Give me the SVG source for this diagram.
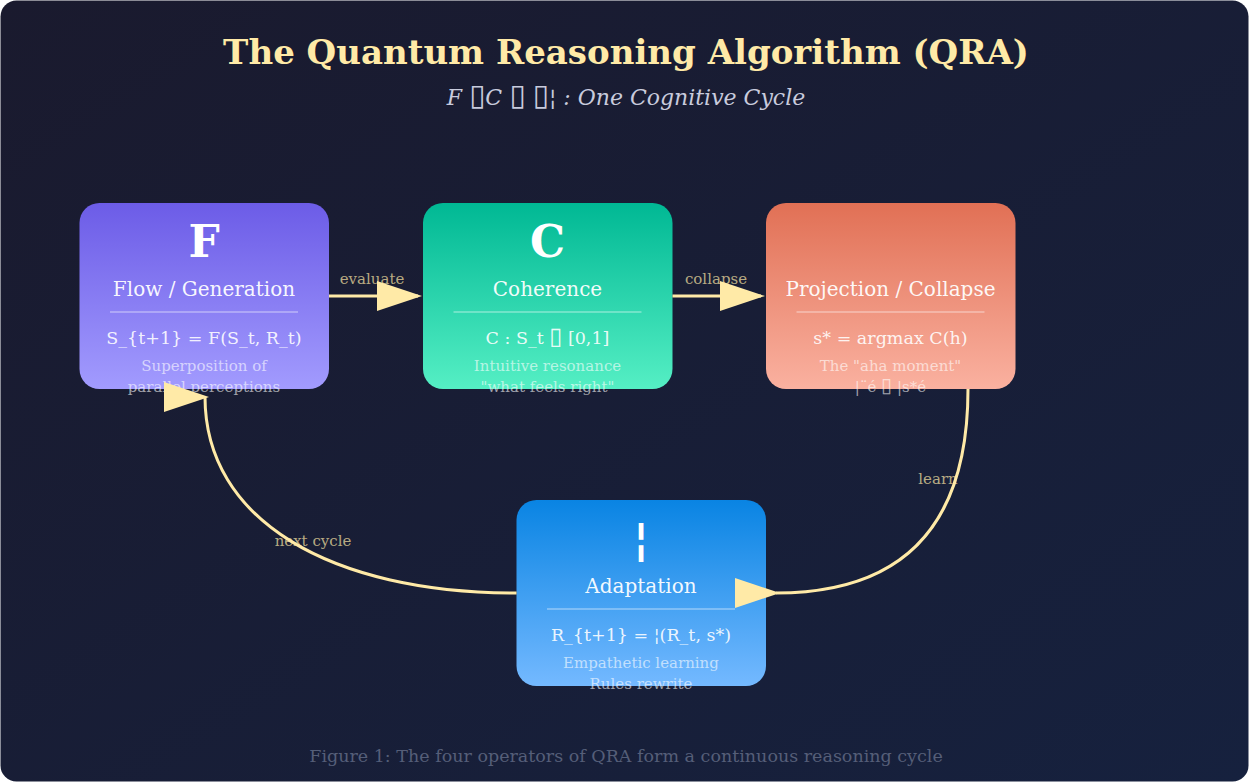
<svg xmlns="http://www.w3.org/2000/svg" width="1249" height="782" viewBox="0 0 1249 782">
<defs>
<linearGradient id="bg" x1="0" y1="0" x2="1" y2="1">
<stop offset="0" stop-color="#1a1a2e"/>
<stop offset="1" stop-color="#16213e"/>
</linearGradient>
<linearGradient id="gF" x1="0" y1="0" x2="0" y2="1"><stop offset="0" stop-color="#6c5ce7"/><stop offset="1" stop-color="#a29bfe"/></linearGradient>
<linearGradient id="gC" x1="0" y1="0" x2="0" y2="1"><stop offset="0" stop-color="#00b894"/><stop offset="1" stop-color="#55efc4"/></linearGradient>
<linearGradient id="gP" x1="0" y1="0" x2="0" y2="1"><stop offset="0" stop-color="#e17055"/><stop offset="1" stop-color="#fab1a0"/></linearGradient>
<linearGradient id="gA" x1="0" y1="0" x2="0" y2="1"><stop offset="0" stop-color="#0984e3"/><stop offset="1" stop-color="#74b9ff"/></linearGradient>
<marker id="arrow" markerUnits="userSpaceOnUse" markerWidth="46" markerHeight="31" refX="41" refY="15" viewBox="0 0 46 31">
<polygon points="0,0 45,15 0,30" fill="#ffeaa7"/>
</marker>
</defs>
<style>
text { font-family: "DejaVu Serif", "Liberation Serif", serif; text-anchor: middle; }
.tofu { font-family: "DejaVu Sans", sans-serif; font-style: normal; font-size: 135%; }
.title { font-size: 34px; font-weight: bold; fill: #ffeaa7; }
.subtitle { font-size: 22px; font-style: italic; fill: #c8cbdd; }
.footer { font-size: 17.5px; fill: #555e78; }
.box { stroke: none; }
.big { font-size: 44px; font-weight: bold; fill: #ffffff; }
.name { font-size: 20px; fill: #ffffff; fill-opacity: 0.95; }
.div { stroke: #ffffff; stroke-opacity: 0.3; stroke-width: 2; }
.formula { font-size: 17.5px; fill: #ffffff; fill-opacity: 0.9; }
.desc { font-size: 15px; fill: #ffffff; fill-opacity: 0.6; }
.conn { fill: none; stroke: #ffeaa7; stroke-width: 3; marker-end: url(#arrow); }
.lbl { font-size: 15px; fill: #ffeaa7; fill-opacity: 0.7; }
</style>
<rect x="0.5" y="0.5" width="1248" height="781" rx="16" fill="url(#bg)"/>
<text class="title" x="626" y="64">The Quantum Reasoning Algorithm (QRA)</text>
<text class="subtitle" x="626" y="105">F <tspan class="tofu">▯</tspan>C <tspan class="tofu">▯</tspan>  <tspan class="tofu">▯</tspan>¦ : One Cognitive Cycle</text>

<g id="node-F">
<rect class="box" x="79.5" y="203" width="249.5" height="186" rx="20" fill="url(#gF)"/>
<text class="big" x="204" y="257">F</text>
<text class="name" x="204" y="296">Flow / Generation</text>
<line class="div" x1="110" y1="312" x2="298" y2="312"/>
<text class="formula" x="204" y="344">S_{t+1} = F(S_t, R_t)</text>
<text class="desc" x="204" y="371">Superposition of</text>
<text class="desc" x="204" y="392">parallel perceptions</text>
</g>

<g id="node-C">
<rect class="box" x="423" y="203" width="249.5" height="186" rx="20" fill="url(#gC)"/>
<text class="big" x="547.5" y="257">C</text>
<text class="name" x="547.5" y="296">Coherence</text>
<line class="div" x1="453.5" y1="312" x2="641.5" y2="312"/>
<text class="formula" x="547.5" y="344">C : S_t <tspan class="tofu">▯</tspan> [0,1]</text>
<text class="desc" x="547.5" y="371">Intuitive resonance</text>
<text class="desc" x="547.5" y="392">"what feels right"</text>
</g>

<g id="node-P">
<rect class="box" x="766" y="203" width="249.5" height="186" rx="20" fill="url(#gP)"/>
<text class="name" x="890.5" y="296">Projection / Collapse</text>
<line class="div" x1="796.5" y1="312" x2="984.5" y2="312"/>
<text class="formula" x="890.5" y="344">s* = argmax C(h)</text>
<text class="desc" x="890.5" y="371">The "aha moment"</text>
<text class="desc" x="890.5" y="392">|¨é <tspan class="tofu">▯</tspan> |s*é</text>
</g>

<g id="node-A">
<rect class="box" x="516.5" y="500" width="249.5" height="186" rx="20" fill="url(#gA)"/>
<text class="big" x="641" y="554">¦</text>
<text class="name" x="641" y="593">Adaptation</text>
<line class="div" x1="547" y1="609" x2="735" y2="609"/>
<text class="formula" x="641" y="641">R_{t+1} = ¦(R_t, s*)</text>
<text class="desc" x="641" y="668">Empathetic learning</text>
<text class="desc" x="641" y="689">Rules rewrite</text>
</g>

<g id="connectors">
<text class="lbl" x="372" y="284">evaluate</text>
<text class="lbl" x="716" y="284">collapse</text>
<text class="lbl" x="938" y="484">learn</text>
<text class="lbl" x="313" y="546">next cycle</text>
<path class="conn" d="M 329 296 L 418 296"/>
<path class="conn" d="M 672.5 296 L 761 296"/>
<path class="conn" d="M 968 389 Q 968 593 776 593"/>
<path class="conn" d="M 516.5 593 C 330 593 205 520 205 397"/>
</g>

<text class="footer" x="626" y="762">Figure 1: The four operators of QRA form a continuous reasoning cycle</text>
</svg>
